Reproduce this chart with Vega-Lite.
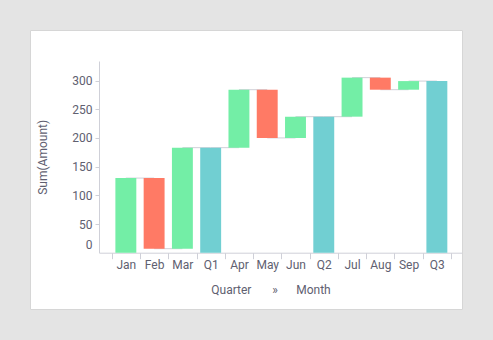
{
  "$schema": "https://vega.github.io/schema/vega-lite/v6.json",
  "width": 432,
  "height": 279,
  "autosize": {"type": "none"},
  "padding": {"left": 30, "top": 30, "right": 31, "bottom": 31},
  "background": "#e4e4e4",
  "data": {
    "values": [
      {"cat": "Jan", "start": 0, "end": 130, "kind": "inc", "next": "Feb"},
      {"cat": "Feb", "start": 130, "end": 7, "kind": "dec", "next": "Mar"},
      {"cat": "Mar", "start": 7, "end": 183, "kind": "inc", "next": "Q1"},
      {"cat": "Q1", "start": 0, "end": 183, "kind": "total", "next": "Apr"},
      {"cat": "Apr", "start": 183, "end": 284, "kind": "inc", "next": "May"},
      {"cat": "May", "start": 284, "end": 200, "kind": "dec", "next": "Jun"},
      {"cat": "Jun", "start": 200, "end": 237, "kind": "inc", "next": "Q2"},
      {"cat": "Q2", "start": 0, "end": 237, "kind": "total", "next": "Jul"},
      {"cat": "Jul", "start": 237, "end": 305, "kind": "inc", "next": "Aug"},
      {"cat": "Aug", "start": 305, "end": 284, "kind": "dec", "next": "Sep"},
      {"cat": "Sep", "start": 284, "end": 299, "kind": "inc", "next": "Q3"},
      {"cat": "Q3", "start": 0, "end": 299, "kind": "total", "next": null}
    ]
  },
  "encoding": {
    "x": {
      "field": "cat",
      "type": "nominal",
      "scale": {
        "domain": ["Jan", "Feb", "Mar", "Q1", "Apr", "May", "Jun", "Q2", "Jul", "Aug", "Sep", "Q3"],
        "range": [69, 431.7],
        "paddingInner": 0,
        "paddingOuter": 0.414,
        "align": 0.543
      },
      "axis": {
        "title": "Quarter\u2003\u2002\u2009»\u2003\u2002Month",
        "offset": -56.3,
        "tickBand": "extent",
        "tickSize": 6,
        "labelPadding": 1,
        "labelAngle": 0,
        "titleX": 240.5,
        "titleY": 37,
        "titleBaseline": "middle"
      }
    }
  },
  "layer": [
    {
      "transform": [{"filter": "datum.next != null"}],
      "mark": {"type": "rule", "color": "#d0d0d8", "strokeWidth": 1},
      "encoding": {
        "x2": {"field": "next"},
        "y": {
          "field": "end",
          "type": "quantitative",
          "scale": {"domain": [0, 334], "range": [222.7, 31], "nice": false, "zero": false},
          "axis": {
            "title": "Sum(Amount)",
            "values": [0, 50, 100, 150, 200, 250, 300],
            "offset": -69,
            "tickSize": 4,
            "labelPadding": 3,
            "titleX": -56.5,
            "titleBaseline": "middle",
            "labelOffset": {"condition": {"test": "datum.value === 0", "value": -8.5}, "value": 0},
            "tickOpacity": {"condition": {"test": "datum.value === 0", "value": 0}, "value": 1}
          }
        }
      }
    },
    {
      "mark": {"type": "bar", "width": {"band": 0.74}},
      "encoding": {
        "y": {
          "field": "start",
          "type": "quantitative",
          "scale": {"domain": [0, 334], "range": [222.7, 31], "nice": false, "zero": false},
          "axis": {
            "title": "Sum(Amount)",
            "values": [0, 50, 100, 150, 200, 250, 300],
            "offset": -69,
            "tickSize": 4,
            "labelPadding": 3,
            "titleX": -56.5,
            "titleBaseline": "middle",
            "labelOffset": {"condition": {"test": "datum.value === 0", "value": -8.5}, "value": 0},
            "tickOpacity": {"condition": {"test": "datum.value === 0", "value": 0}, "value": 1}
          }
        },
        "y2": {"field": "end"},
        "color": {
          "field": "kind",
          "type": "nominal",
          "scale": {"domain": ["inc", "dec", "total"], "range": ["#73eea6", "#ff7a65", "#71cfd2"]},
          "legend": null
        }
      }
    }
  ],
  "config": {
    "view": {"fill": "white", "stroke": "#d6d6d6"},
    "axis": {
      "grid": false,
      "labelFont": "Roboto",
      "titleFont": "Roboto",
      "labelFontSize": 12,
      "titleFontSize": 12,
      "titleFontWeight": "normal",
      "labelColor": "#606070",
      "titleColor": "#606070",
      "domainColor": "#cfd0d8",
      "tickColor": "#cfd0d8"
    }
  }
}
